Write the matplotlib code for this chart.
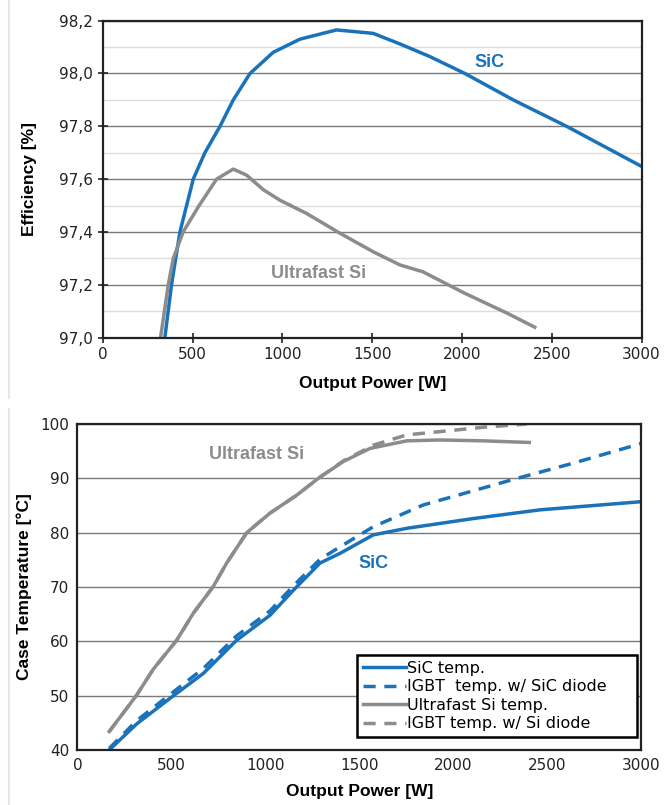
import matplotlib.pyplot as plt
from matplotlib.lines import Line2D
from matplotlib.ticker import MultipleLocator, FuncFormatter

# Top chart: efficiency [%] vs output power [W]
eff_sic_p = [345, 382, 429, 503, 568, 652, 726, 819, 948, 1097, 1301, 1505, 1654,
             1821, 2016, 2285, 2582, 3000]
eff_sic_v = [97.0, 97.2, 97.4, 97.6, 97.7, 97.8, 97.9, 98.0, 98.08, 98.13, 98.165,
             98.152, 98.112, 98.064, 98.0, 97.9, 97.8, 97.648]
eff_si_p = [321, 364, 392, 447, 531, 633, 726, 800, 893, 986, 1134, 1320, 1505,
            1654, 1782, 2017, 2252, 2405]
eff_si_v = [97.0, 97.2, 97.3, 97.4, 97.495, 97.6, 97.638, 97.615, 97.56, 97.52,
            97.47, 97.395, 97.325, 97.275, 97.249, 97.167, 97.092, 97.039]

# Bottom chart: case temperature [°C] vs output power [W]
t_sic_p = [169, 315, 492, 670, 847, 1025, 1149, 1291, 1398, 1575, 1753, 2107, 2462, 3000]
t_sic_v = [40.0, 44.8, 49.5, 54.1, 60.2, 64.8, 69.4, 74.4, 76.2, 79.6, 80.8, 82.6, 84.2, 85.7]
t_igbt_sic_p = [169, 315, 492, 670, 847, 1025, 1149, 1291, 1398, 1575, 1841, 2320, 2640, 3000]
t_igbt_sic_v = [40.3, 45.4, 50.2, 55.0, 61.0, 65.6, 70.2, 75.1, 77.4, 81.1, 85.1, 89.8, 92.8, 96.4]
t_si_p = [169, 315, 404, 528, 617, 723, 794, 901, 1025, 1167, 1282, 1415, 1557,
          1753, 1930, 2160, 2405]
t_si_v = [43.4, 50.1, 54.9, 60.2, 65.2, 70.1, 74.4, 80.0, 83.6, 86.9, 90.0, 93.1, 95.5,
          96.9, 97.06, 96.9, 96.6]
t_igbt_si_p = [169, 315, 404, 528, 617, 723, 794, 901, 1025, 1167, 1282, 1415, 1575,
               1753, 1930, 2160, 2391]
t_igbt_si_v = [43.4, 50.1, 54.9, 60.2, 65.2, 70.1, 74.4, 80.0, 83.6, 86.9, 90.0, 93.2, 96.1,
               98.0, 98.6, 99.4, 100.0]

BLUE = '#1a73ba'
GRAY = '#8c8c8c'

plt.rcParams['font.family'] = 'DejaVu Sans'
fig = plt.figure(figsize=(6.64, 8.05), dpi=100)

comma = FuncFormatter(lambda v, pos: f"{v:.1f}".replace('.', ','))

# faint panel borders on the left
fig.add_artist(Line2D([0.013, 0.013], [0.505, 1.0], color='#e6e6e6', lw=1.5))
fig.add_artist(Line2D([0.013, 0.013], [0.0, 0.492], color='#e6e6e6', lw=1.5))

# ---- top ----
ax1 = fig.add_axes([0.155, 0.5807, 0.8113, 0.3936])
ax1.plot(eff_sic_p, eff_sic_v, color=BLUE, lw=2.5, solid_joinstyle='round')
ax1.plot(eff_si_p, eff_si_v, color=GRAY, lw=2.5, solid_joinstyle='round')
ax1.set_xlim(0, 3000)
ax1.set_ylim(97.0, 98.2)
ax1.xaxis.set_major_locator(MultipleLocator(500))
ax1.yaxis.set_major_locator(MultipleLocator(0.2))
ax1.yaxis.set_minor_locator(MultipleLocator(0.1))
ax1.yaxis.set_major_formatter(comma)
ax1.grid(True, axis='y', which='major', color='#7a7a7a', lw=1.0)
ax1.grid(True, axis='y', which='minor', color='#dddddd', lw=1.0)
ax1.set_axisbelow(True)
ax1.tick_params(which='minor', length=0)
ax1.tick_params(which='major', direction='inout', length=7, width=1.2,
                labelsize=11, colors='#222222')
ax1.set_xlabel('Output Power [W]', family='Liberation Sans', fontweight='bold',
               fontsize=12.5, labelpad=10)
ax1.set_ylabel('Efficiency [%]', family='Liberation Sans', fontweight='bold',
               fontsize=12.5, labelpad=16)
for s in ax1.spines.values():
    s.set_linewidth(1.6)
    s.set_color('#222222')
ax1.text(2155, 98.04, 'SiC', color=BLUE, fontweight='bold', fontsize=13,
         family='Liberation Sans', ha='center', va='center')
ax1.text(1199, 97.243, 'Ultrafast Si', color=GRAY, fontweight='bold', fontsize=13,
         family='Liberation Sans', ha='center', va='center')

# ---- bottom ----
ax2 = fig.add_axes([0.1167, 0.0683, 0.8487, 0.405])
ax2.plot(t_sic_p, t_sic_v, color=BLUE, lw=2.5, label='SiC temp.')
ax2.plot(t_igbt_sic_p, t_igbt_sic_v, color=BLUE, lw=2.5, ls=(0, (3.5, 2.5)),
         label='IGBT  temp. w/ SiC diode')
ax2.plot(t_si_p, t_si_v, color=GRAY, lw=2.5, label='Ultrafast Si temp.')
ax2.plot(t_igbt_si_p, t_igbt_si_v, color=GRAY, lw=2.5, ls=(0, (3.5, 2.5)),
         label='IGBT temp. w/ Si diode')
ax2.set_xlim(0, 3000)
ax2.set_ylim(40, 100)
ax2.xaxis.set_major_locator(MultipleLocator(500))
ax2.yaxis.set_major_locator(MultipleLocator(10))
ax2.grid(True, axis='y', color='#7a7a7a', lw=1.0)
ax2.set_axisbelow(True)
ax2.tick_params(length=0, labelsize=11, colors='#222222', pad=6)
ax2.set_xlabel('Output Power [W]', family='Liberation Sans', fontweight='bold',
               fontsize=12.5, labelpad=8)
ax2.set_ylabel('Case Temperature [°C]', family='Liberation Sans', fontweight='bold',
               fontsize=12.5, labelpad=6)
for s in ax2.spines.values():
    s.set_linewidth(1.6)
    s.set_color('#222222')
ax2.text(954, 94.3, 'Ultrafast Si', color=GRAY, fontweight='bold', fontsize=13,
         family='Liberation Sans', ha='center', va='center')
ax2.text(1575, 74.4, 'SiC', color=BLUE, fontweight='bold', fontsize=13,
         family='Liberation Sans', ha='center', va='center')
leg = ax2.legend(loc='lower left', bbox_to_anchor=(0.496, 0.04, 0.497, 0.255),
                 mode='expand', fontsize=11.5,
                 frameon=True, fancybox=False, handlelength=2.7, handletextpad=0.1,
                 borderpad=0.35, labelspacing=0.22, borderaxespad=0)
leg.get_frame().set_edgecolor('black')
leg.get_frame().set_linewidth(1.8)
leg.get_frame().set_alpha(1)

fig.savefig('out.png', dpi=100)
